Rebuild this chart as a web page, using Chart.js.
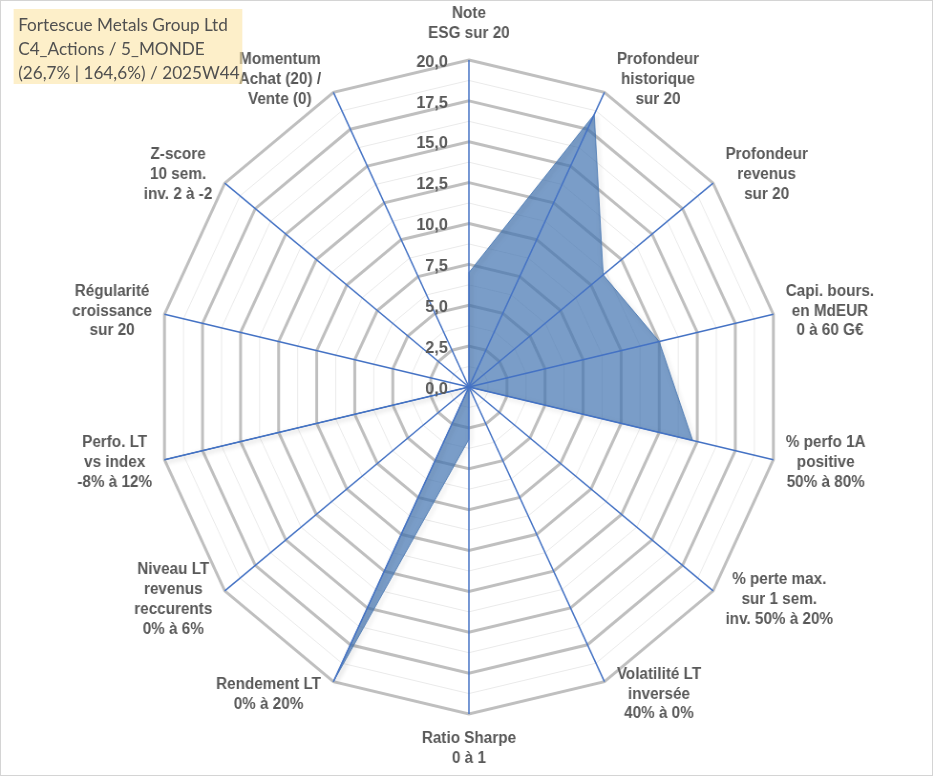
<!DOCTYPE html>
<html><head><meta charset="utf-8">
<script src="https://cdn.jsdelivr.net/npm/chart.js@4.4.1/dist/chart.umd.min.js"></script>
<style>
html,body{margin:0;padding:0;background:#fff;overflow:hidden;width:933px;height:776px}
#wrap{position:absolute;left:0;top:0;width:977px;height:776px;transform:scaleX(0.955);transform-origin:0 0}
#title{position:absolute;left:14px;top:9px;width:240px;height:75px;background:rgba(251,226,157,0.55);color:#505050;font:18px Lato;line-height:24px;padding:3px 0 0 5px;box-sizing:border-box;white-space:nowrap}
#frame{position:absolute;left:0;top:0;width:933px;height:776px;box-sizing:border-box;border:1px solid #d4d4d4;pointer-events:none}
</style></head><body>
<div id="wrap"><canvas id="c"></canvas><div id="title"></div></div>
<div id="frame"></div>
<script>
const titleLines = ['Fortescue Metals Group Ltd', 'C4_Actions / 5_MONDE', '(26,7% | 164,6%) / 2025W44'];
const categories = [
  ['Note','ESG sur 20'],
  ['Profondeur','historique','sur 20'],
  ['Profondeur','revenus','sur 20'],
  ['Capi. bours.','en MdEUR','0 à 60 G€'],
  ['% perfo 1A','positive','50% à 80%'],
  ['% perte max.','sur 1 sem.','inv. 50% à 20%'],
  ['Volatilité LT','inversée','40% à 0%'],
  ['Ratio Sharpe','0 à 1'],
  ['Rendement LT','0% à 20%'],
  ['Niveau LT','revenus','reccurents','0% à 6%'],
  ['Perfo. LT','vs index','-8% à 12%'],
  ['Régularité','croissance','sur 20'],
  ['Z-score','10 sem.','inv. 2 à -2'],
  ['Momentum','Achat (20) /','Vente (0)']
];
const values = [7.0, 18.5, 11.0, 12.5, 14.7, 0, 0, 3.2, 20, 0, 20, 0, 0, 0];
const tickValues = [0, 2.5, 5, 7.5, 10, 12.5, 15, 17.5, 20];
const tickLabels = ['0,0','2,5','5,0','7,5','10,0','12,5','15,0','17,5','20,0'];

document.getElementById('title').innerHTML = titleLines.map(t => '<div>' + t + '</div>').join('');

const overlay = {
  id: 'overlay',
  beforeDatasetDraw(chart) {
    const ctx = chart.ctx; ctx.save();
    ctx.shadowColor = 'rgba(0,0,0,0.35)'; ctx.shadowBlur = 5; ctx.shadowOffsetX = 2; ctx.shadowOffsetY = 2;
  },
  afterDatasetDraw(chart) { chart.ctx.restore(); },
  afterDatasetsDraw(chart) {
    const s = chart.scales.r, ctx = chart.ctx, R = s.drawingArea;
    ctx.save();
    ctx.strokeStyle = '#4472C4'; ctx.lineWidth = 1.5;
    categories.forEach((c, i) => {
      const p = s.getPointPositionForValue(i, s.max);
      ctx.beginPath(); ctx.moveTo(s.xCenter, s.yCenter); ctx.lineTo(p.x, p.y); ctx.stroke();
    });
    ctx.font = 'bold 17px "Liberation Sans", Arial'; ctx.fillStyle = '#595959';
    ctx.textAlign = 'right'; ctx.textBaseline = 'middle';
    tickValues.forEach((v, k) => {
      const y = s.yCenter - s.getDistanceFromCenterForValue(v);
      ctx.fillText(tickLabels[k], s.xCenter - 22, y + 2);
    });
    ctx.font = 'bold 16px "Liberation Sans", Arial'; ctx.textAlign = 'center';
    const lh = 19.8;
    categories.forEach((lines, i) => {
      const v = s.getPointPositionForValue(i, s.max);
      const sin = (v.x - s.xCenter) / R, cos = (s.yCenter - v.y) / R;
      const w = Math.max(...lines.map(t => ctx.measureText(t).width)), h = lines.length * lh;
      let cx, cy;
      if (Math.abs(sin) < 0.01) { cx = v.x; cy = cos > 0 ? v.y - 17 - h / 2 : v.y + 15 + h / 2; }
      else { cy = v.y - 14 * cos; cx = sin > 0 ? v.x + 13 + w / 2 : v.x - 13 - w / 2; }
      lines.forEach((t, k) => ctx.fillText(t, cx, cy - h / 2 + lh * (k + 0.5)));
    });
    ctx.restore();
  }
};

new Chart(document.getElementById('c'), {
  type: 'radar',
  data: {
    labels: categories,
    datasets: [{
      data: values,
      backgroundColor: 'rgba(66,115,176,0.7)',
      borderColor: 'rgba(66,115,176,0.8)',
      borderWidth: 1,
      pointRadius: 0,
      fill: true
    }]
  },
  options: {
    responsive: true, maintainAspectRatio: false, animation: false,
    layout: { padding: { left: 164, right: 159, top: 60, bottom: 62 } },
    plugins: { legend: { display: false }, tooltip: { enabled: false } },
    scales: {
      r: {
        min: 0, max: 20,
        ticks: { display: false, stepSize: 1.25 },
        pointLabels: { display: false },
        angleLines: { display: false },
        grid: {
          color: c => (c.tick && c.tick.value % 2.5 === 0) ? '#BFBFBF' : '#EAEAEA',
          lineWidth: c => (c.tick && c.tick.value % 2.5 === 0) ? 3 : 1
        }
      }
    }
  },
  plugins: [overlay]
});
</script>
</body></html>
